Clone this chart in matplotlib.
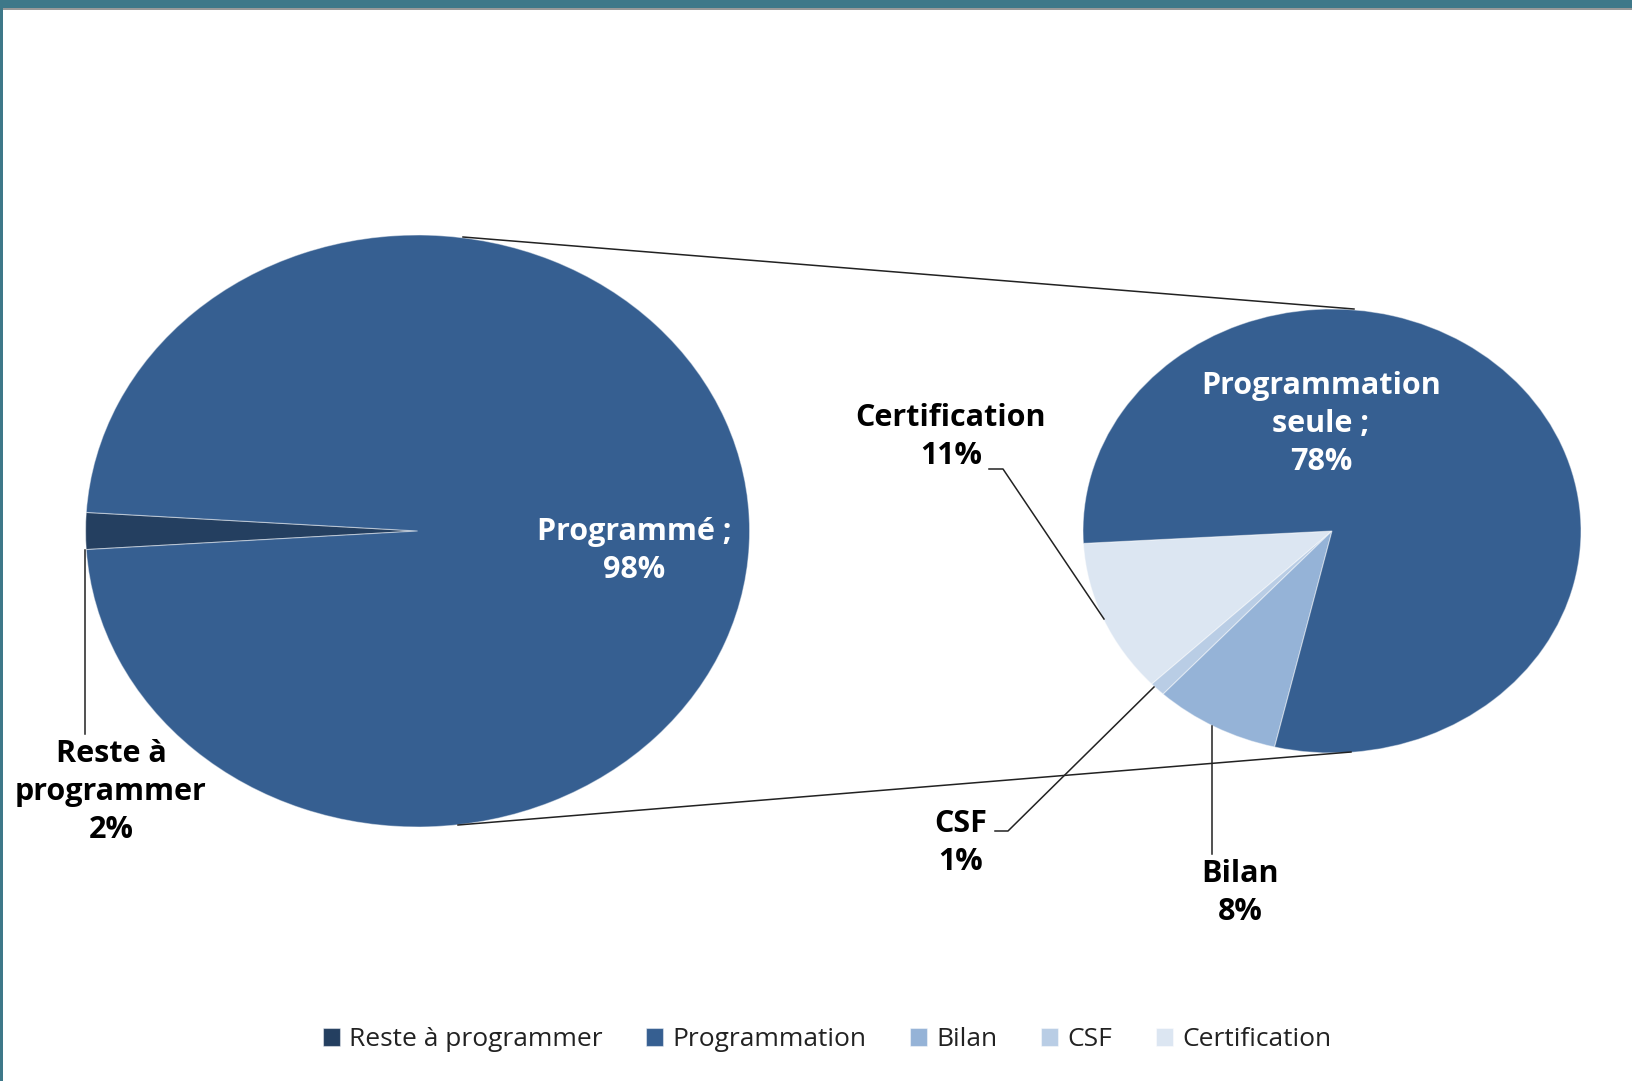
import matplotlib.pyplot as plt
from matplotlib.patches import Rectangle

W, H = 1633, 1081

# left pie (primary)
left_labels = ["Reste à programmer", "Programmé"]
left_values = [2, 98]
left_colors = ["#243f60", "#365f91"]

# right pie (detail of "Programmé")
right_labels = ["Certification", "CSF", "Bilan", "Programmation"]
right_values = [11, 1, 8, 78]
right_colors = ["#dce6f2", "#b9cde5", "#95b3d7", "#365f91"]

legend_order = ["Reste à programmer", "Programmation", "Bilan", "CSF", "Certification"]

plt.rcParams['font.family'] = ['Open Sans', 'DejaVu Sans']

fig = plt.figure(figsize=(W / 100, H / 100), dpi=100)
fig.patch.set_facecolor("white")


def pie_axes(cx, cy, rx, ry):
    ax = fig.add_axes([(cx - rx) / W, 1 - (cy + ry) / H, 2 * rx / W, 2 * ry / H])
    return ax


wp = dict(edgecolor=(1, 1, 1, 0.45), linewidth=0.8)

ax1 = pie_axes(417.6, 531, 332, 296)
w1, _ = ax1.pie(left_values, colors=left_colors, startangle=180 - 3.6,
                counterclock=True, radius=1, wedgeprops=wp)
ax1.set_aspect('auto')
ax1.set_xlim(-1, 1)
ax1.set_ylim(-1, 1)
ax1.axis('off')

ax2 = pie_axes(1332, 531, 249, 222)
w2, _ = ax2.pie(right_values, colors=right_colors, startangle=183.2,
                counterclock=True, radius=1, wedgeprops=wp)
ax2.set_aspect('auto')
ax2.set_xlim(-1, 1)
ax2.set_ylim(-1, 1)
ax2.axis('off')

# overlay in pixel coords for connectors and labels
ov = fig.add_axes([0, 0, 1, 1], zorder=5)
ov.set_xlim(0, W)
ov.set_ylim(H, 0)
ov.axis('off')
ov.patch.set_alpha(0)

lc = dict(color="#222222", lw=1.1)
ov.plot([463, 1354], [237, 309], **lc)
ov.plot([458, 1351], [825, 752], **lc)
# leader lines
ov.plot([85, 85], [550, 734], **lc)
ov.plot([989, 1003, 1104], [469, 469, 619], **lc)
ov.plot([995, 1008, 1154], [831, 831, 687], **lc)
ov.plot([1212, 1212], [726, 854], **lc)

fs = 22
tb = dict(fontsize=fs, fontweight='bold', ha='center', va='center', linespacing=1.33)
ov.text(634, 551, "Programmé ;\n98%", color="white", **tb)
ov.text(111, 792, "Reste à\nprogrammer\n2%", color="black", **tb)
ov.text(1321, 424, "Programmation\nseule ;\n78%", color="white", **tb)
ov.text(951, 437, "Certification\n11%", color="black", **tb)
ov.text(961, 843, "CSF\n1%", color="black", **tb)
ov.text(1240, 893, "Bilan\n8%", color="black", **tb)

# legend
handles = {"Reste à programmer": w1[0], "Programmation": w2[3], "Bilan": w2[2],
           "CSF": w2[1], "Certification": w2[0]}
leg = fig.legend([handles[k] for k in legend_order], legend_order, ncol=5,
                 loc='center', bbox_to_anchor=(0.5064, 1 - 1040 / H), frameon=False,
                 fontsize=19, handlelength=0.65, handleheight=0.65,
                 columnspacing=1.65, handletextpad=0.35)
for t in leg.get_texts():
    t.set_color("#222222")

# window frame decorations
fig.add_artist(Rectangle((0, 1 - 8 / H), 1, 8 / H, transform=fig.transFigure,
                         facecolor="#3e7889", edgecolor="none"))
fig.add_artist(Rectangle((0, 1 - 10 / H), 1, 2 / H, transform=fig.transFigure,
                         facecolor="#999999", edgecolor="none"))
fig.add_artist(Rectangle((0, 0), 3 / W, 1, transform=fig.transFigure,
                         facecolor="#3e7889", edgecolor="none"))

fig.savefig("out.png", dpi=100)
